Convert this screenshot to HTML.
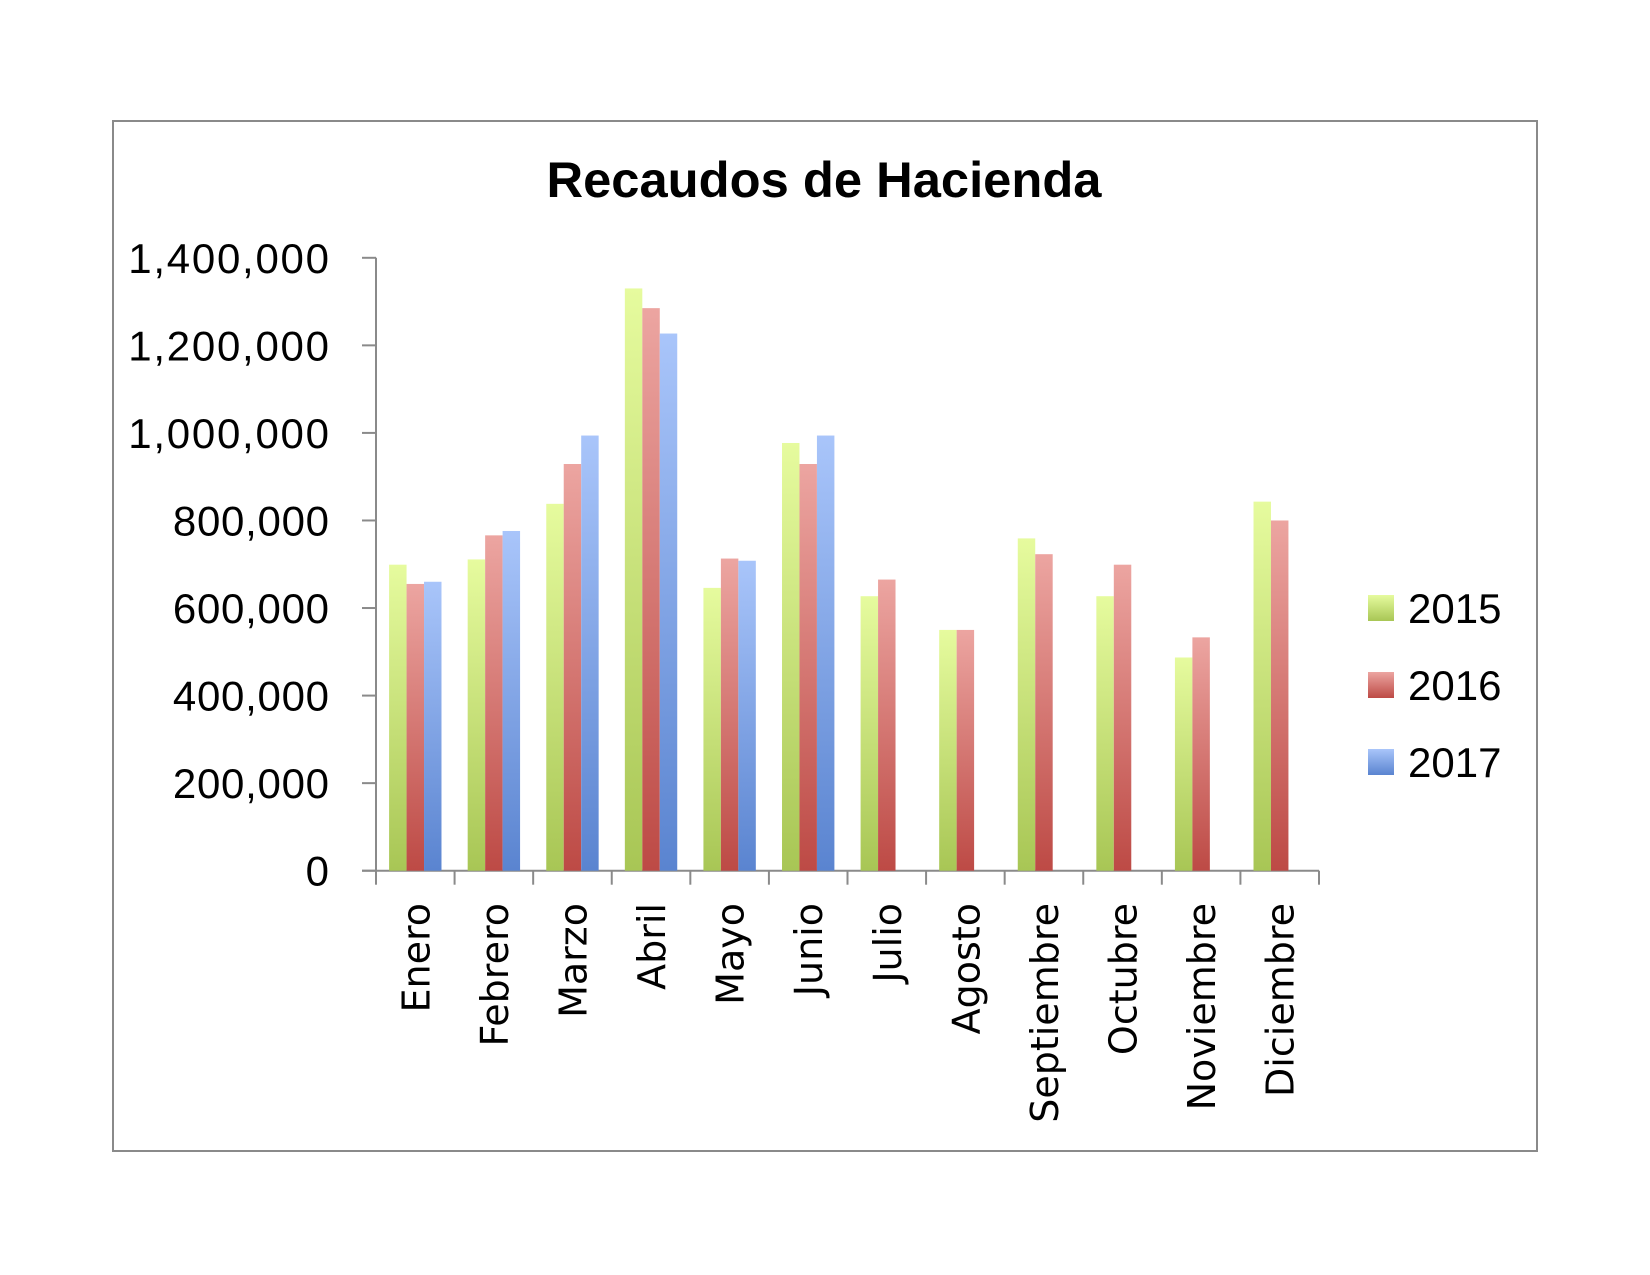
<!DOCTYPE html>
<html><head><meta charset="utf-8"><style>
html,body{margin:0;padding:0;background:#fff;}
svg{display:block;}
</style></head><body>
<svg id="chart" width="1650" height="1275" xmlns="http://www.w3.org/2000/svg">
<defs>
<linearGradient id="g2015" x1="0" y1="0" x2="0" y2="1"><stop offset="0" stop-color="#e6fb9e"/><stop offset="1" stop-color="#a8c655"/></linearGradient>
<linearGradient id="g2016" x1="0" y1="0" x2="0" y2="1"><stop offset="0" stop-color="#eca5a1"/><stop offset="1" stop-color="#bd4a45"/></linearGradient>
<linearGradient id="g2017" x1="0" y1="0" x2="0" y2="1"><stop offset="0" stop-color="#a9c5fa"/><stop offset="1" stop-color="#5a84d0"/></linearGradient>
</defs>
<rect x="113" y="121" width="1424" height="1030" fill="#fff" stroke="#8a8a8a" stroke-width="2"/>
<text x="824" y="197" text-anchor="middle" font-family="Liberation Sans, sans-serif" font-weight="bold" font-size="50" textLength="555" lengthAdjust="spacingAndGlyphs">Recaudos de Hacienda</text>
<g id="axes"></g>
<g id="bars"></g>
<g id="legend"></g>
</svg>
<script>
const categories = ["Enero","Febrero","Marzo","Abril","Mayo","Junio","Julio","Agosto","Septiembre","Octubre","Noviembre","Diciembre"];
const seriesNames = ["2015","2016","2017"];
const values2015 = [699000,711000,838000,1330000,646000,977000,627000,550000,759000,627000,487000,843000];
const values2016 = [655000,766000,929000,1285000,713000,929000,665000,550000,723000,699000,533000,800000];
const values2017 = [660000,776000,994000,1227000,708000,994000,null,null,null,null,null,null];
const tickValues = [0,200000,400000,600000,800000,1000000,1200000,1400000];
const tickLabels = ["0","200,000","400,000","600,000","800,000","1,000,000","1,200,000","1,400,000"];

const NS="http://www.w3.org/2000/svg";
const x0=376, x1=1319, yZero=870.7, yTop=257.8, vMax=1400000;
const catW=(x1-x0)/categories.length;
const barW=catW/4.5;
function yScale(v){return yZero-(v/vMax)*(yZero-yTop);}
function xCat(i){return x0+i*catW;}
function mk(tag,attrs,parent){const e=document.createElementNS(NS,tag);for(const k in attrs)e.setAttribute(k,attrs[k]);parent.appendChild(e);return e;}

const axes=document.getElementById('axes');
const yAxis=mk('line',{x1:x0,y1:yTop,x2:x0,y2:yZero,stroke:'#8a8a8a','stroke-width':2},axes);


const xAxis=mk('line',{x1:x0-14,y1:yZero,x2:x1,y2:yZero,stroke:'#8a8a8a','stroke-width':2},axes);


tickValues.forEach((v,i)=>{
  const y=yScale(v);
  const t=mk('line',{x1:x0-14,y1:y,x2:x0,y2:y,stroke:'#8a8a8a','stroke-width':2},axes);
  
  
  const lb=mk('text',{x:329,y:y+15,'text-anchor':'end','font-family':'Liberation Sans, sans-serif','font-size':42},axes);
  lb.textContent=tickLabels[i];
  if(tickLabels[i].length>1) lb.setAttribute('textLength', tickLabels[i].length*22.3);
  
  
});
for(let i=0;i<=categories.length;i++){
  const x=xCat(i);
  const t=mk('line',{x1:x,y1:yZero,x2:x,y2:yZero+14,stroke:'#8a8a8a','stroke-width':2},axes);
  
  
}
categories.forEach((c,i)=>{
  const cx=xCat(i)+catW/2;
  const lb=mk('text',{transform:`translate(${cx+14},903) rotate(-90)`,'text-anchor':'end','font-family':'DejaVu Sans, sans-serif','font-size':38},axes);
  lb.textContent=c;
  
  
});

const bars=document.getElementById('bars');
const allSeries=[values2015,values2016,values2017];
allSeries.forEach((arr,s)=>{
  arr.forEach((v,i)=>{
    if(v==null) return;
    const x=xCat(i)+catW/2-1.5*barW+s*barW;
    const y=yScale(v);
    const r=mk('rect',{x:x,y:y,width:barW,height:yZero-y,fill:`url(#g${seriesNames[s]})`},bars);
    
    
  });
});

const legend=document.getElementById('legend');
const legY=[608,685,762];
seriesNames.forEach((n,s)=>{
  const g=mk('g',{},legend);
  
  
  mk('rect',{x:1368,y:legY[s]-13,width:26,height:26,fill:`url(#g${n})`},g);
  const t=mk('text',{x:1408,y:legY[s]+15,'font-family':'Liberation Sans, sans-serif','font-size':42},g);
  t.textContent=n;
});
</script>
</body></html>
